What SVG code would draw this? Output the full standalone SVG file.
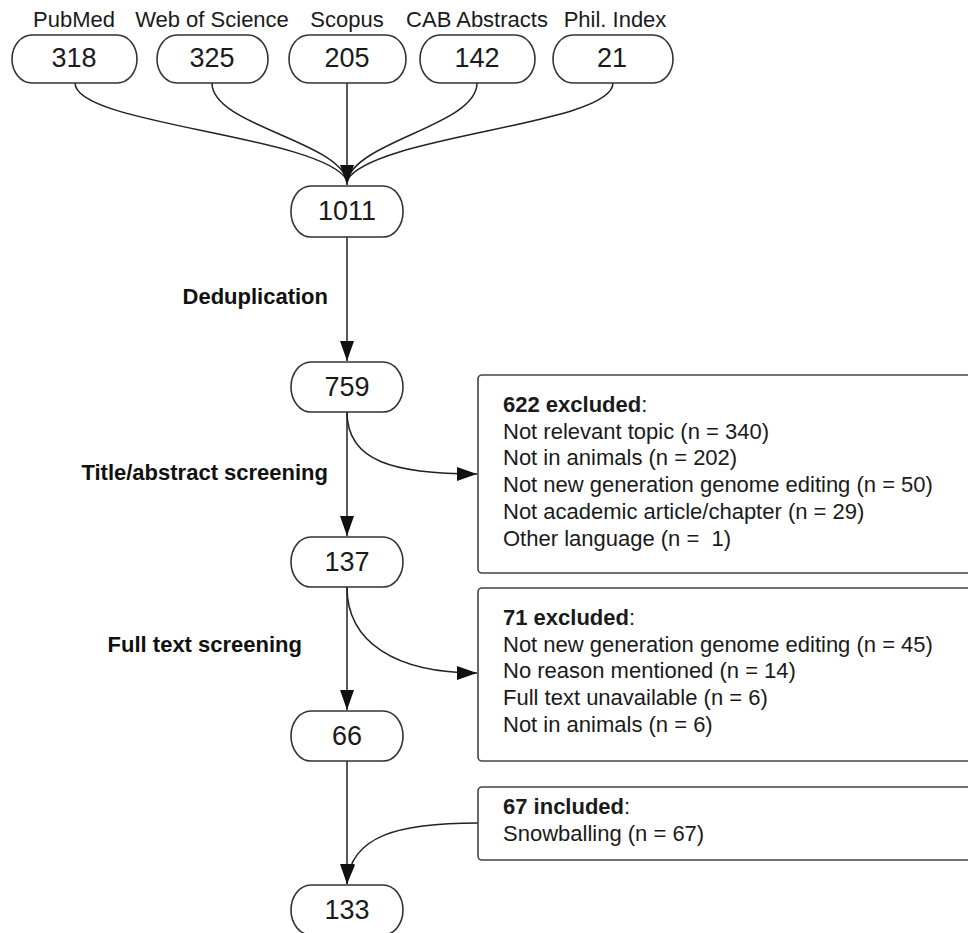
<svg xmlns="http://www.w3.org/2000/svg" width="968" height="933" viewBox="0 0 968 933">
  <style>
    .term { fill: #ffffff; stroke: #333333; stroke-width: 1.6; }
    .box { fill: #ffffff; stroke: #444444; stroke-width: 1.6; }
    .lbl { font-family: "Liberation Sans", Arial, sans-serif; font-size: 22px; fill: #1a1a1a; text-anchor: middle; }
    .num { font-family: "Liberation Sans", Arial, sans-serif; font-size: 27px; fill: #1a1a1a; text-anchor: middle; }
    .step { font-family: "Liberation Sans", Arial, sans-serif; font-size: 22px; font-weight: bold; fill: #111111; text-anchor: end; }
    .txt { font-family: "Liberation Sans", Arial, sans-serif; font-size: 22px; fill: #1a1a1a; }
    .b { font-weight: bold; }
    .conn { fill: none; stroke: #222222; stroke-width: 1.5; }
  </style>
  <defs>
    <marker id="arr" markerUnits="userSpaceOnUse" markerWidth="20" markerHeight="14" refX="20" refY="7" orient="auto">
      <path d="M0,0 L20,7 L0,14 Z" fill="#111111"/>
    </marker>
  </defs>

  <g id="connectors">
    <path class="conn" d="M75,83 C75,125 320,135 347,180"/>
    <path class="conn" d="M212,83 C212,125 335,140 347,180"/>
    <path class="conn" d="M477,83 C477,125 359,140 347,180"/>
    <path class="conn" d="M613,83 C613,125 374,135 347,180"/>
    <path class="conn" d="M347,83 L347,185" marker-end="url(#arr)"/>
    <path class="conn" d="M347,237 L347,361" marker-end="url(#arr)"/>
    <path class="conn" d="M347,412 L347,536" marker-end="url(#arr)"/>
    <path class="conn" d="M347,412 C347,462 395,474 477,474" marker-end="url(#arr)"/>
    <path class="conn" d="M347,587 L347,710" marker-end="url(#arr)"/>
    <path class="conn" d="M347,587 C347,642 395,673 477,673" marker-end="url(#arr)"/>
    <path class="conn" d="M347,761 L347,884" marker-end="url(#arr)"/>
    <path class="conn" d="M478,823 C400,823 350,835 347,884" marker-end="url(#arr)"/>
  </g>

  <g id="pubmed">
    <text class="lbl" x="74" y="27">PubMed</text>
    <rect class="term" x="12" y="35" width="125" height="48" rx="20" ry="24"/>
    <text class="num" x="74" y="67">318</text>
  </g>
  <g id="wos">
    <text class="lbl" x="212" y="27">Web of Science</text>
    <rect class="term" x="157" y="35" width="111" height="48" rx="20" ry="24"/>
    <text class="num" x="212" y="67">325</text>
  </g>
  <g id="scopus">
    <text class="lbl" x="347" y="27">Scopus</text>
    <rect class="term" x="289" y="35" width="117" height="48" rx="20" ry="24"/>
    <text class="num" x="347" y="67">205</text>
  </g>
  <g id="cab">
    <text class="lbl" x="477" y="27">CAB Abstracts</text>
    <rect class="term" x="420" y="35" width="115" height="48" rx="20" ry="24"/>
    <text class="num" x="477" y="67">142</text>
  </g>
  <g id="phil">
    <text class="lbl" x="615" y="27">Phil. Index</text>
    <rect class="term" x="553" y="35" width="120" height="48" rx="20" ry="24"/>
    <text class="num" x="612" y="67">21</text>
  </g>

  <g id="n1011">
    <rect class="term" x="291" y="186" width="112" height="51" rx="20" ry="25"/>
    <text class="num" x="347" y="220">1011</text>
  </g>
  <g id="dedup">
    <text class="step" x="328" y="304">Deduplication</text>
  </g>
  <g id="n759">
    <rect class="term" x="291" y="362" width="112" height="50" rx="20" ry="25"/>
    <text class="num" x="347" y="396">759</text>
  </g>
  <g id="title-screen">
    <text class="step" x="328" y="480">Title/abstract screening</text>
  </g>
  <g id="n137">
    <rect class="term" x="291" y="537" width="112" height="50" rx="20" ry="25"/>
    <text class="num" x="347" y="571">137</text>
  </g>
  <g id="full-screen">
    <text class="step" x="302" y="652">Full text screening</text>
  </g>
  <g id="n66">
    <rect class="term" x="291" y="711" width="112" height="50" rx="20" ry="25"/>
    <text class="num" x="347" y="745">66</text>
  </g>
  <g id="n133">
    <rect class="term" x="291" y="885" width="112" height="50" rx="20" ry="25"/>
    <text class="num" x="347" y="919">133</text>
  </g>

  <g id="excl1">
    <rect class="box" x="478" y="375" width="500" height="198" rx="4"/>
    <text class="txt" x="503" y="412"><tspan class="b">622 excluded</tspan>:<tspan x="503" dy="26.7">Not relevant topic (n = 340)</tspan><tspan x="503" dy="26.7">Not in animals (n = 202)</tspan><tspan x="503" dy="26.7">Not new generation genome editing (n = 50)</tspan><tspan x="503" dy="26.7">Not academic article/chapter (n = 29)</tspan><tspan x="503" dy="26.7">Other language (n =&#160; 1)</tspan></text>
  </g>
  <g id="excl2">
    <rect class="box" x="478" y="588" width="500" height="173" rx="4"/>
    <text class="txt" x="503" y="625"><tspan class="b">71 excluded</tspan>:<tspan x="503" dy="26.7">Not new generation genome editing (n = 45)</tspan><tspan x="503" dy="26.7">No reason mentioned (n = 14)</tspan><tspan x="503" dy="26.7">Full text unavailable (n = 6)</tspan><tspan x="503" dy="26.7">Not in animals (n = 6)</tspan></text>
  </g>
  <g id="incl">
    <rect class="box" x="478" y="787" width="500" height="73" rx="4"/>
    <text class="txt" x="503" y="814"><tspan class="b">67 included</tspan>:<tspan x="503" dy="26.7">Snowballing (n = 67)</tspan></text>
  </g>
</svg>
